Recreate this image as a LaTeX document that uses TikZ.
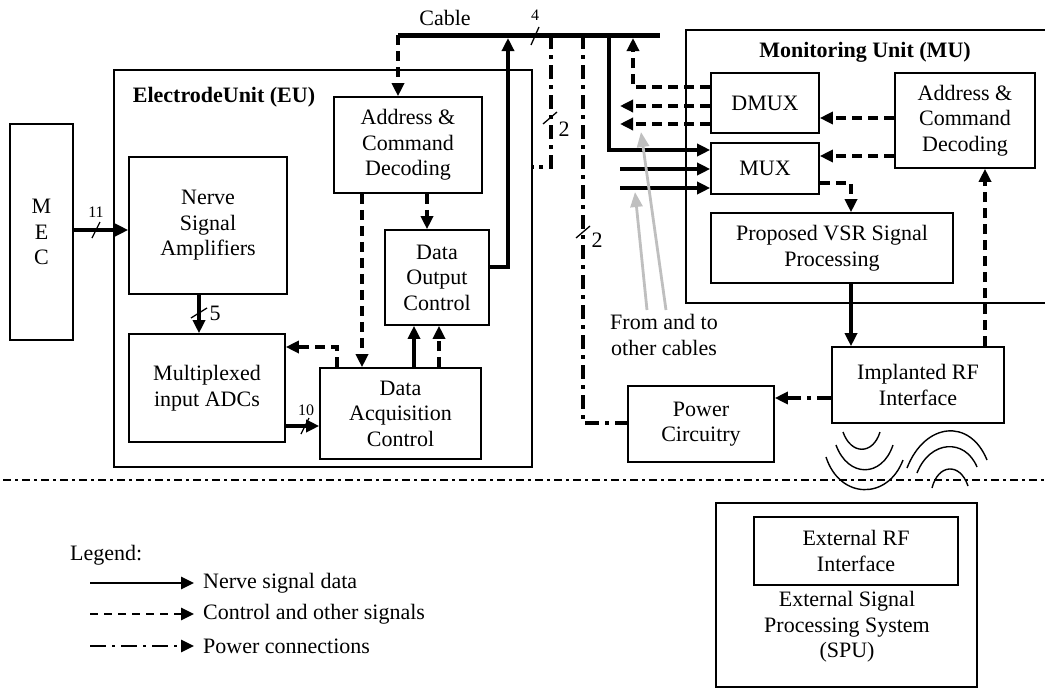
\documentclass[tikz,border=0pt]{standalone}
\usepackage{fontspec}
\setmainfont{Liberation Serif}
\usetikzlibrary{arrows.meta}
\newcommand\fsnorm{\fontsize{22}{25.5}\selectfont}
\newcommand\fssmall{\fontsize{16}{18}\selectfont}
\tikzset{
  box/.style={draw, line width=1.6pt, align=center, font=\fsnorm, inner sep=0pt},
  tip/.style={-{Triangle[length=13pt,width=12pt]}},
  data/.style={line width=3.4pt, tip},
  ctrl/.style={line width=3.4pt, dash pattern=on 10pt off 6pt, tip},
  pwr/.style={line width=3.4pt, dash pattern=on 14pt off 6pt on 4pt off 6pt, tip},
  cableline/.style={line width=5pt},
  slashline/.style={line width=1.3pt},
  lbl/.style={font=\fssmall, inner sep=0pt},
  txt/.style={font=\fsnorm, align=center, inner sep=0pt},
  wave/.style={line width=1.4pt},
  grayarrow/.style={line width=2.8pt, draw=black!25, -{Triangle[length=15pt,width=12pt,fill=black!25]}},
}
\begin{document}
\begin{tikzpicture}[x=1pt,y=-1pt]
\useasboundingbox (0,0) rectangle (1045,688);
\clip (0,0) rectangle (1045,688);

% ---- Electrode Unit ----
\node[box, minimum width=418, minimum height=397] (eu) at (323,268.5) {};
\node[txt, font=\fsnorm\bfseries] (eutitle) at (224,97) {ElectrodeUnit (EU)};
\node[box, minimum width=63, minimum height=216] (mec) at (41.5,232) {M\\E\\C};
\node[box, minimum width=158, minimum height=137] (nsa) at (208,225.5) {Nerve\\Signal\\Amplifiers};
\node[box, minimum width=156, minimum height=108] (adc) at (207,388) {Multiplexed\\input ADCs};
\node[box, minimum width=161, minimum height=91] (dac) at (400.5,413.5) {Data\\Acquisition\\Control};
\node[box, minimum width=104, minimum height=95] (doc) at (437,277.5) {Data\\Output\\Control};
\node[box, minimum width=148, minimum height=96] (acd) at (408,145) {Address \&\\Command\\Decoding};

% ---- Monitoring Unit ----
\node[box, minimum width=370, minimum height=273] (mu) at (871,166.5) {};
\node[txt, font=\fsnorm\bfseries] (mutitle) at (865,52) {Monitoring Unit (MU)};
\node[box, minimum width=108, minimum height=60] (dmux) at (765,103) {DMUX};
\node[box, minimum width=108, minimum height=51] (mux) at (765,168.5) {MUX};
\node[box, minimum width=140, minimum height=95] (acdm) at (965,120.5) {Address \&\\Command\\Decoding};
\node[box, minimum width=242, minimum height=70] (pvsr) at (832,248) {Proposed VSR Signal\\Processing};

\node[box, minimum width=172, minimum height=76] (rf) at (918,385) {Implanted RF\\Interface};
\node[box, minimum width=146, minimum height=76] (pc) at (701,424) {Power\\Circuitry};

% ---- SPU ----
\node[box, minimum width=261, minimum height=184] (spu) at (846.5,595) {};
\node[box, minimum width=204, minimum height=68] (erf) at (856,551) {External RF\\Interface};
\node[txt] (sputxt) at (847,627) {External Signal\\Processing System\\(SPU)};

% ---- Cable ----
\coordinate (cl) at (398,35);
\coordinate (cr) at (660,35);
\draw[cableline] (cl) -- (cr);
\node[txt] (cabletxt) at (445,18) {Cable};
\draw[slashline] (531,45) -- (539,27);
\node[lbl] (n4) at (535,15) {4};

% ---- EU connectors ----
\draw[data] (mec.east |- 0,230) -- (nsa.west |- 0,230);
\draw[slashline] (92,238) -- (100,222);
\node[lbl] (n11) at (96,212) {11};
\draw[data] (nsa.south -| 199,0) -- (adc.north -| 199,0);
\draw[slashline] (191,318) -- (207,308);
\node[lbl, font=\fsnorm] (n5) at (215,313) {5};
\draw[data] (adc.east |- 0,426) -- (dac.west |- 0,426);
\draw[slashline] (301,434) -- (309,418);
\node[lbl] (n10) at (306,410) {10};
\draw[data] (dac.north -| 414,0) -- (doc.south -| 414,0);
\draw[ctrl] (dac.north -| 439,0) -- (doc.south -| 439,0);
\draw[ctrl] (dac.north -| 337,0) -- (337,347) -- (adc.east |- 0,347);
\draw[ctrl] (acd.south -| 362,0) -- (dac.north -| 362,0);
\draw[ctrl] (acd.south -| 427,0) -- (doc.north -| 427,0);
\draw[ctrl] (cl) -- (acd.north -| cl);
\draw[data] (doc.east |- 0,267) -- (508,267) -- (508,38);
\draw[pwr,-] (551,35) -- (551,167) -- (eu.east |- 0,167);
\draw[slashline] (543,124) -- (557,112);
\node[lbl, font=\fsnorm] (n2a) at (564,129) {2};
\draw[pwr,-] (583,35) -- (583,423) -- (pc.west |- 0,423);
\draw[slashline] (576,238) -- (590,226);
\node[lbl, font=\fsnorm] (n2b) at (597,240) {2};

% ---- MU connectors ----
\draw[ctrl] (dmux.west |- 0,87) -- (633,87) -- (633,38);
\draw[ctrl] (dmux.west |- 0,106) -- (620,106);
\draw[ctrl] (dmux.west |- 0,124) -- (620,124);
\draw[data] (609,35) -- (609,150) -- (mux.west |- 0,150);
\draw[data] (620,169) -- (mux.west |- 0,169);
\draw[data] (620,188) -- (mux.west |- 0,188);
\draw[ctrl] (acdm.west |- 0,118) -- (dmux.east |- 0,118);
\draw[ctrl] (acdm.west |- 0,156) -- (mux.east |- 0,156);
\draw[ctrl] (mux.east |- 0,183) -- (851,183) -- (pvsr.north -| 851,0);
\draw[data] (pvsr.south -| 851,0) -- (rf.north -| 851,0);
\draw[ctrl] (rf.north -| 985,0) -- (acdm.south -| 985,0);
\draw[pwr] (rf.west |- 0,398) -- (pc.east |- 0,398);

% ---- other cables ----
\node[txt] (other) at (664,335) {From and to\\other cables};
\draw[grayarrow] (647,310) -- (635,192);
\draw[grayarrow] (666,310) -- (641,132);

% ---- waves ----
\draw[wave] (843,432) .. controls (851,455) and (873,455) .. (880,432);
\draw[wave] (836,445) .. controls (848,478) and (882,478) .. (893,445);
\draw[wave] (826,457) .. controls (840,500) and (888,500) .. (903,460);
\draw[wave] (907,468) .. controls (925,422) and (970,418) .. (987,460);
\draw[wave] (917,473) .. controls (930,440) and (965,438) .. (977,467);
\draw[wave] (932,488) .. controls (938,464) and (960,462) .. (968,486);

% ---- separator ----
\draw[line width=2.2pt, dash pattern=on 8pt off 4pt on 3pt off 4pt] (3,480) -- (1045,480);

% ---- legend ----
\node[txt, anchor=west] (legend) at (70,555) {Legend:};
\coordinate (l1a) at (90,583); \coordinate (l1b) at (194,583);
\coordinate (l2a) at (90,614); \coordinate (l2b) at (194,614);
\coordinate (l3a) at (90,646); \coordinate (l3b) at (194,646);
\draw[data, line width=2.8pt] (l1a) -- (l1b);
\draw[ctrl, line width=2.8pt, dash pattern=on 8pt off 6pt] (l2a) -- (l2b);
\draw[pwr, line width=2.8pt, dash pattern=on 16pt off 6pt on 3pt off 6pt] (l3a) -- (l3b);
\node[txt, anchor=west] (t1) at (203,583) {Nerve signal data};
\node[txt, anchor=west] (t2) at (203,614) {Control and other signals};
\node[txt, anchor=west] (t3) at (203,646) {Power connections};
\end{tikzpicture}
\end{document}
